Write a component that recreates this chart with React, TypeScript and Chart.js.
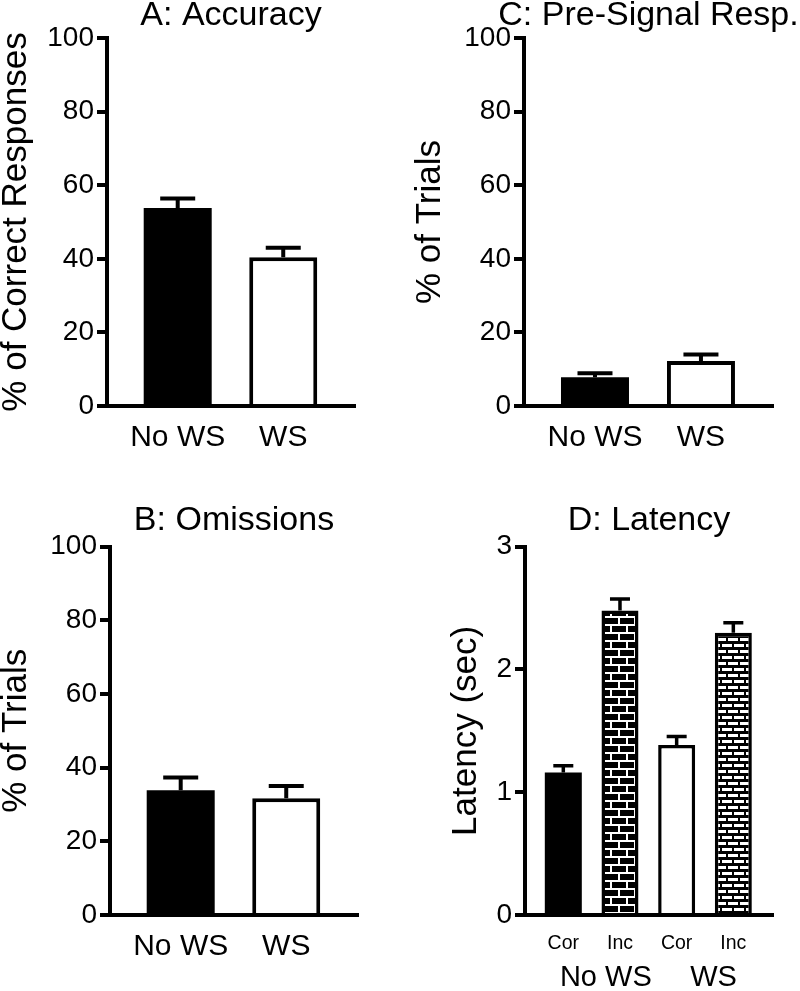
import React, { useEffect, useRef } from "react";
import { Chart, registerables } from "chart.js";

Chart.register(...registerables);

const FONT = "'Liberation Sans', Arial, Helvetica, sans-serif";

// ---------- data ----------
const groups = ["No WS", "WS"];
const accuracyMean = [53.8, 40.4];
const accuracySem = [2.6, 2.6];
const omissionsMean = [33.9, 31.7];
const omissionsSem = [3.4, 3.3];
const preSignalMean = [7.8, 12.2];
const preSignalSem = [1.1, 1.8];
const latencyCategories = ["Cor", "Inc", "Cor", "Inc"];
const latencyMean = [1.16, 2.48, 1.385, 2.3];
const latencySem = [0.055, 0.095, 0.068, 0.08];
const percentTicks = [0, 20, 40, 60, 80, 100];
const latencyTicks = [0, 1, 2, 3];

type Fill = "black" | "white" | "brickDark" | "brickLight";
const twoFills: Fill[] = ["black", "white"];
const latencyFills: Fill[] = ["black", "brickDark", "white", "brickLight"];

// ---------- helpers ----------
function makeBrick(target: CanvasRenderingContext2D, kind: "dark" | "light") {
  const c = document.createElement("canvas");
  const ctx = c.getContext("2d")!;
  if (kind === "dark") {
    c.width = 16;
    c.height = 16;
    ctx.fillStyle = "#000";
    ctx.fillRect(0, 0, 16, 16);
    ctx.fillStyle = "#fff";
    ctx.fillRect(0, 0, 16, 2);
    ctx.fillRect(0, 8, 16, 2);
    ctx.fillRect(0, 2, 2, 6);
    ctx.fillRect(8, 10, 2, 6);
  } else {
    c.width = 12;
    c.height = 12;
    ctx.fillStyle = "#000";
    ctx.fillRect(0, 0, 12, 12);
    ctx.fillStyle = "#fff";
    ctx.fillRect(2, 2, 10, 3);
    ctx.fillRect(8, 8, 4, 3);
    ctx.fillRect(0, 8, 6, 3);
  }
  return target.createPattern(c, "repeat")!;
}

const errorBarPlugin = {
  id: "errorBars",
  afterDatasetsDraw(chart: any, _args: any, opts: any) {
    const { ctx } = chart;
    const yScale = chart.scales.y;
    chart.data.datasets.forEach((ds: any, di: number) => {
      const meta = chart.getDatasetMeta(di);
      meta.data.forEach((el: any, i: number) => {
        const v = ds.data[i].y;
        const top = yScale.getPixelForValue(v + ds.errors[i]);
        ctx.save();
        ctx.strokeStyle = "#000";
        ctx.lineWidth = opts.lineWidth;
        ctx.lineCap = "butt";
        ctx.beginPath();
        ctx.moveTo(el.x, el.y);
        ctx.lineTo(el.x, top);
        ctx.moveTo(el.x - opts.capHalf, top);
        ctx.lineTo(el.x + opts.capHalf, top);
        ctx.stroke();
        ctx.restore();
      });
    });
  },
};

interface Spec {
  left: number;
  top: number;
  chartRight: number;
  height: number;
  title: string;
  titlePadTop: number;
  titlePadBottom: number;
  yTitle: string;
  yTicks: number[];
  yAxisWidth: number;
  xMin: number;
  xMax: number;
  xAxisHeight: number;
  xTickPad: number;
  xFontSize: number;
  labels: string[];
  means: number[];
  sems: number[];
  fills: Fill[];
  barThickness: number;
  borderWidth: number;
  capHalf: number;
  errWidth: number;
  groupLabels?: string[];
  groupPos?: number[];
  groupPad?: number;
  groupHeight?: number;
}

// canvas is made symmetric about the plot area so the centred title sits over the plot
const canvasWidth = (s: Spec) => s.chartRight - s.left + s.yAxisWidth;

function buildConfig(spec: Spec, canvas: HTMLCanvasElement): any {
  const c2d = canvas.getContext("2d")!;
  const resolveFill = (f: Fill) =>
    f === "black" ? "#000" : f === "white" ? "#fff" : makeBrick(c2d, f === "brickDark" ? "dark" : "light");

  const scales: any = {
    x: {
      type: "linear",
      position: "bottom",
      weight: 0,
      z: 1,
      min: spec.xMin,
      max: spec.xMax,
      offset: false,
      grid: { display: false, drawTicks: false, tickLength: 0, offset: false },
      border: { display: true, width: 4, color: "#000" },
      afterBuildTicks: (s: any) => {
        s.ticks = spec.labels.map((_, i) => ({ value: i + 1 }));
      },
      afterFit: (s: any) => {
        s.height = spec.xAxisHeight;
      },
      ticks: {
        autoSkip: false,
        maxRotation: 0,
        padding: spec.xTickPad,
        color: "#000",
        font: { family: FONT, size: spec.xFontSize },
        callback: (_v: any, i: number) => spec.labels[i],
      },
    },
    y: {
      type: "linear",
      position: "left",
      min: spec.yTicks[0],
      max: spec.yTicks[spec.yTicks.length - 1],
      afterBuildTicks: (s: any) => {
        s.ticks = spec.yTicks.map((v) => ({ value: v }));
      },
      afterFit: (s: any) => {
        s.width = spec.yAxisWidth;
      },
      grid: {
        display: true,
        drawOnChartArea: false,
        drawTicks: true,
        tickLength: 10,
        lineWidth: 4,
        color: "#000",
      },
      border: { display: true, width: 4, color: "#000" },
      ticks: {
        padding: 3,
        color: "#000",
        font: { family: FONT, size: 28 },
        callback: (v: any) => String(v),
      },
      title: {
        display: true,
        text: spec.yTitle,
        color: "#000",
        font: { family: FONT, size: 35, lineHeight: 1 },
        padding: { top: -1.5, bottom: 0 },
      },
    },
    yPad: {
      type: "linear",
      position: "right",
      min: 0,
      max: 1,
      grid: { display: false, drawTicks: false },
      border: { display: false },
      ticks: { display: false },
      afterFit: (s: any) => {
        s.width = spec.yAxisWidth;
      },
    },
  };

  if (spec.groupLabels && spec.groupPos) {
    scales.x2 = {
      type: "linear",
      position: "bottom",
      weight: 1,
      min: spec.xMin,
      max: spec.xMax,
      offset: false,
      grid: { display: false, drawTicks: false, tickLength: 0 },
      border: { display: false },
      afterBuildTicks: (s: any) => {
        s.ticks = spec.groupPos!.map((v) => ({ value: v }));
      },
      afterFit: (s: any) => {
        s.height = spec.groupHeight || 34;
      },
      ticks: {
        autoSkip: false,
        maxRotation: 0,
        padding: spec.groupPad || 4,
        color: "#000",
        font: { family: FONT, size: 29 },
        callback: (_v: any, i: number) => spec.groupLabels![i],
      },
    };
  }

  return {
    type: "bar",
    data: {
      datasets: [
        {
          data: spec.means.map((m, i) => ({ x: i + 1, y: m })),
          errors: spec.sems,
          backgroundColor: spec.fills.map(resolveFill),
          borderColor: "#000",
          borderWidth: spec.fills.map((f) => (f === "black" ? 0 : spec.borderWidth)),
          borderSkipped: "start",
          barThickness: spec.barThickness,
          inflateAmount: 0,
        },
      ],
    },
    options: {
      responsive: false,
      animation: false,
      layout: { padding: 0 },
      events: [],
      plugins: {
        legend: { display: false },
        tooltip: { enabled: false },
        title: {
          display: true,
          text: spec.title,
          fullSize: true,
          color: "#000",
          font: { family: FONT, size: 34, weight: "normal", lineHeight: 1 },
          padding: { top: spec.titlePadTop, bottom: spec.titlePadBottom },
        },
        errorBars: { capHalf: spec.capHalf, lineWidth: spec.errWidth },
      },
      scales,
    },
    plugins: [errorBarPlugin],
  };
}

function Panel({ spec }: { spec: Spec }) {
  const ref = useRef<HTMLCanvasElement>(null);
  const w = canvasWidth(spec);
  useEffect(() => {
    const chart = new Chart(ref.current!, buildConfig(spec, ref.current!));
    return () => chart.destroy();
  }, [spec]);
  return (
    <canvas
      ref={ref}
      width={w}
      height={spec.height}
      style={{ position: "absolute", left: spec.left, top: spec.top, width: w, height: spec.height }}
    />
  );
}

const panelA: Spec = {
  left: 0, top: 0, chartRight: 355, height: 476,
  title: "A: Accuracy", titlePadTop: -1, titlePadBottom: 5,
  yTitle: "% of Correct Responses", yTicks: percentTicks, yAxisWidth: 107,
  xMin: 0.33, xMax: 2.68, xAxisHeight: 70, xTickPad: 14, xFontSize: 30,
  labels: groups, means: accuracyMean, sems: accuracySem, fills: twoFills,
  barThickness: 68, borderWidth: 4, capHalf: 17.5, errWidth: 4,
};

const panelC: Spec = {
  left: 414, top: 0, chartRight: 773, height: 476,
  title: "C: Pre-Signal Resp.", titlePadTop: -1, titlePadBottom: 5,
  yTitle: "% of Trials", yTicks: percentTicks, yAxisWidth: 110,
  xMin: 0.33, xMax: 2.68, xAxisHeight: 70, xTickPad: 14, xFontSize: 30,
  labels: groups, means: preSignalMean, sems: preSignalSem, fills: twoFills,
  barThickness: 68, borderWidth: 4, capHalf: 17.5, errWidth: 4,
};

const panelB: Spec = {
  left: 0, top: 480, chartRight: 358, height: 505,
  title: "B: Omissions", titlePadTop: 24, titlePadBottom: 8.7,
  yTitle: "% of Trials", yTicks: percentTicks, yAxisWidth: 110,
  xMin: 0.33, xMax: 2.68, xAxisHeight: 70, xTickPad: 14, xFontSize: 30,
  labels: groups, means: omissionsMean, sems: omissionsSem, fills: twoFills,
  barThickness: 68, borderWidth: 4, capHalf: 17.5, errWidth: 4,
};

const panelD: Spec = {
  left: 450, top: 480, chartRight: 773, height: 511,
  title: "D: Latency", titlePadTop: 24, titlePadBottom: 8.7,
  yTitle: "Latency (sec)", yTicks: latencyTicks, yAxisWidth: 75,
  xMin: 0.324, xMax: 4.7, xAxisHeight: 42, xTickPad: 17, xFontSize: 19.5,
  labels: latencyCategories, means: latencyMean, sems: latencySem, fills: latencyFills,
  barThickness: 37, borderWidth: 3.5, capHalf: 10, errWidth: 3.5,
  groupLabels: groups, groupPos: [1.75, 3.65], groupPad: 4, groupHeight: 34,
};

export default function App() {
  return (
    <div style={{ position: "absolute", left: 0, top: 0, width: 800, height: 991, overflow: "hidden", background: "#fff" }}>
      <Panel spec={panelA} />
      <Panel spec={panelC} />
      <Panel spec={panelB} />
      <Panel spec={panelD} />
    </div>
  );
}
